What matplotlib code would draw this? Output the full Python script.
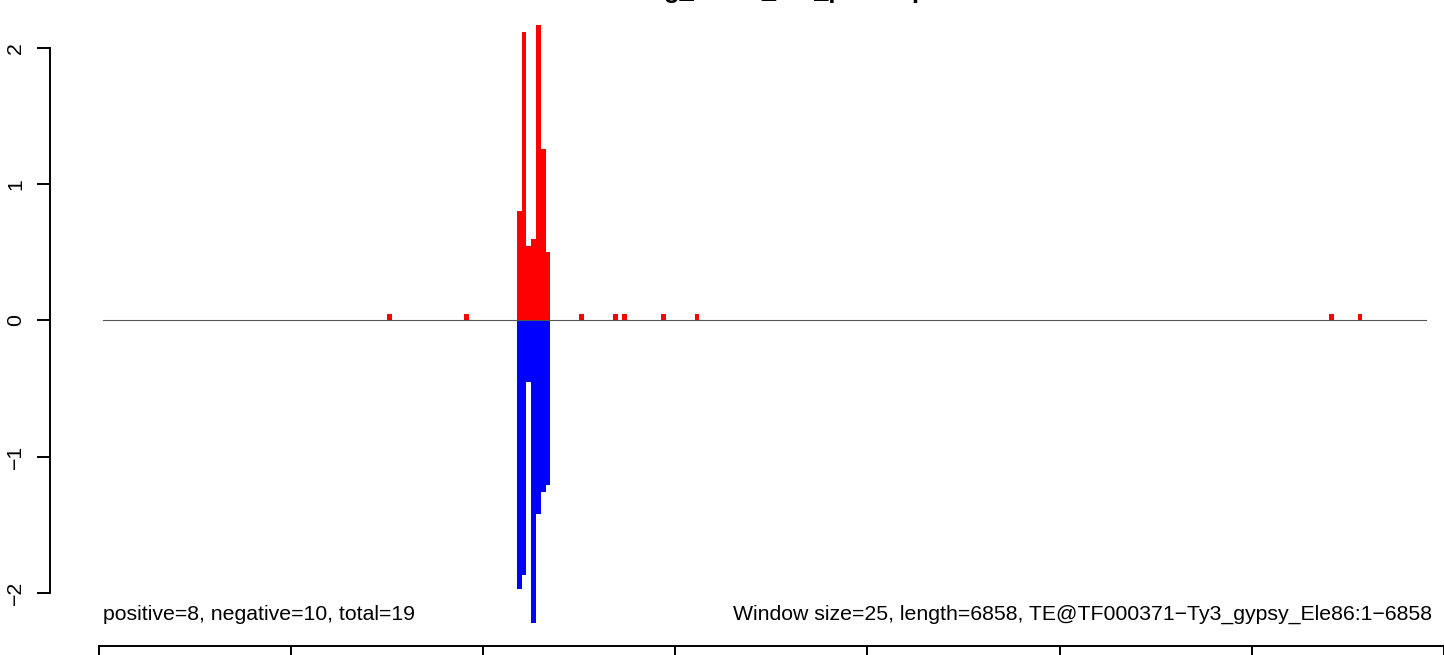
import matplotlib
matplotlib.use("Agg")
import matplotlib.pyplot as plt

# window start positions (bp) and signal values, window size 25
win_size = 25
pos_start = [1500, 1900, 2175, 2200, 2225, 2250, 2275, 2300, 2325,
             2500, 2675, 2725, 2925, 3100, 6400, 6550]
pos_value = [0.045, 0.045, 0.80, 2.12, 0.55, 0.60, 2.17, 1.26, 0.50,
             0.045, 0.045, 0.045, 0.045, 0.045, 0.045, 0.045]
neg_start = [2175, 2200, 2225, 2250, 2275, 2300, 2325]
neg_value = [-1.97, -1.865, -0.454, -2.22, -1.417, -1.26, -1.21]

baseline_x = [20, 6906]
x_ticks = [0, 1000, 2000, 3000, 4000, 5000, 6000, 7000]
y_ticks = [-2, -1, 0, 1, 2]

title = "Ele86ring_reads_uni_plotmap"
left_note = "positive=8, negative=10, total=19"
right_note = "Window size=25, length=6858, TE@TF000371\u2212Ty3_gypsy_Ele86:1\u22126858"

plt.rcParams['font.family'] = ['Liberation Sans', 'DejaVu Sans']
plt.rcParams['axes.unicode_minus'] = True

W, H = 1444, 655
fig = plt.figure(figsize=(W / 100, H / 100), dpi=100)

# pixel layout of the reference
ax_left_px, ax_bottom_px = 50, 646
x0_px, px_per_bp = 99, 0.193
y0_px, px_per_unit = 320.5, 136.25

ax = fig.add_axes([ax_left_px / W, (H - ax_bottom_px) / H,
                   (W - ax_left_px) / W, ax_bottom_px / H])
ax.set_xlim((ax_left_px - x0_px) / px_per_bp, (W - x0_px) / px_per_bp)
ax.set_ylim((y0_px - ax_bottom_px) / px_per_unit, y0_px / px_per_unit)

ax.bar(pos_start, pos_value, width=win_size, align='edge', color='#ff0000', linewidth=0)
ax.bar(neg_start, neg_value, width=win_size, align='edge', color='#0000ff', linewidth=0)
ax.plot(baseline_x, [0, 0], color='#555555', lw=0.8)

for s in ['top', 'right']:
    ax.spines[s].set_visible(False)
ax.spines['left'].set_bounds(-2, 2)
ax.spines['bottom'].set_bounds(0, 7000)
for s in ['left', 'bottom']:
    ax.spines[s].set_linewidth(1.4)

ax.set_yticks(y_ticks)
ax.set_yticklabels([str(v).replace('-', '\u2212') for v in y_ticks],
                   rotation=90, va='center', fontsize=15.3)
ax.set_xticks(x_ticks)
ax.tick_params(axis='x', labelbottom=False, length=10, width=1.4, direction='out')
ax.tick_params(axis='y', length=9.4, width=1.4, direction='out', pad=8.5)

fig.text(565 / W, 1 + 1.5 / H, title, fontsize=18.4, fontweight='bold',
         ha='left', va='baseline')
fig.text(103 / W, 1 - 620 / H, left_note, fontsize=15.3, ha='left', va='baseline')
fig.text(1432 / W, 1 - 620 / H, right_note, fontsize=15.3, ha='right', va='baseline')

fig.savefig("out.png", dpi=100)
